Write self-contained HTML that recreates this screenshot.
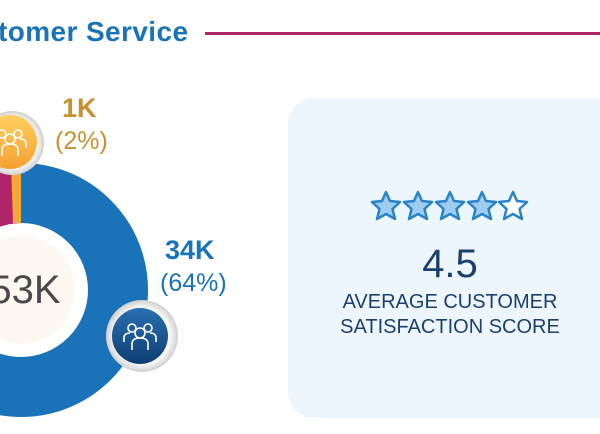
<!DOCTYPE html>
<html><head><style>
body{margin:0;width:600px;height:434px;overflow:hidden;background:#fff;font-family:"Liberation Sans",sans-serif;position:relative}
.t{position:absolute;white-space:nowrap}
</style></head><body>
<div class="t" style="left:-2px;top:16px;font-size:28px;font-weight:bold;color:#1a73b8;letter-spacing:0.4px">tomer Service</div>
<div style="position:absolute;left:205px;top:32px;width:400px;height:3px;background:#b0246a"></div>
<svg width="600" height="434" style="position:absolute;left:0;top:0">
<defs>
<radialGradient id="ring"><stop offset="0.75" stop-color="#fff"/><stop offset="1" stop-color="#cfcfcf"/></radialGradient>
<linearGradient id="og" x1="0" y1="0" x2="0" y2="1"><stop offset="0" stop-color="#ffd060"/><stop offset="1" stop-color="#f5a030"/></linearGradient>
<linearGradient id="bg" x1="0" y1="0" x2="0" y2="1"><stop offset="0" stop-color="#2a6fb0"/><stop offset="1" stop-color="#0e3f72"/></linearGradient>
<g id="ppl" fill="none" stroke="#fff" stroke-width="1.6">
<circle cx="-8" cy="-8" r="4"/><circle cx="8" cy="-8" r="4"/><circle cx="0" cy="-3" r="5"/>
<path d="M-16 6 v-4 q0-5 6-5"/><path d="M16 6 v-4 q0-5 -6-5"/><path d="M-8 14 v-6 q0-6 8-6 q8 0 8 6 v6"/></g>
</defs>
<circle cx="21" cy="290" r="97" fill="none" stroke="#1a73b8" stroke-width="60"/>
<path d="M21 163 A127 127 0 0 0 -85 360 L-35 325 A67 67 0 0 1 21 223 Z" fill="#b0246a"/>
<path d="M21 163 L11 163 L13 223 L21 223 Z" fill="#f5a833"/>
<circle cx="21" cy="290" r="66" fill="#fff"/>
<circle cx="21" cy="290" r="54" fill="#fdf8f2"/>
<circle cx="12" cy="143" r="32" fill="url(#ring)"/>
<circle cx="10" cy="142" r="27" fill="url(#og)"/>
<use href="#ppl" x="10" y="142"/>
<circle cx="142" cy="336" r="36" fill="url(#ring)"/>
<circle cx="140" cy="336" r="28" fill="url(#bg)"/>
<use href="#ppl" x="140" y="336"/>
<rect x="288" y="98" width="340" height="320" rx="26" fill="#eef6fd"/>
<g stroke="#2a82c8" stroke-width="2.5" stroke-linejoin="round" fill="#9fcdf0">
<path transform="translate(386,206)" d="M0 -14 L4 -5 L14 -4 L6.5 3 L9 13 L0 8 L-9 13 L-6.5 3 L-14 -4 L-4 -5 Z"/>
<path transform="translate(418,206)" d="M0 -14 L4 -5 L14 -4 L6.5 3 L9 13 L0 8 L-9 13 L-6.5 3 L-14 -4 L-4 -5 Z"/>
<path transform="translate(450,206)" d="M0 -14 L4 -5 L14 -4 L6.5 3 L9 13 L0 8 L-9 13 L-6.5 3 L-14 -4 L-4 -5 Z"/>
<path transform="translate(482,206)" d="M0 -14 L4 -5 L14 -4 L6.5 3 L9 13 L0 8 L-9 13 L-6.5 3 L-14 -4 L-4 -5 Z"/>
<path transform="translate(513,206)" d="M0 -14 L4 -5 L14 -4 L6.5 3 L9 13 L0 8 L-9 13 L-6.5 3 L-14 -4 L-4 -5 Z" fill="#fff"/>
</g>
</svg>
<div class="t" style="left:-30px;top:268px;width:110px;text-align:center;font-size:40px;color:#4a4a4a">53K</div>
<div class="t" style="left:62px;top:93px;font-size:27px;font-weight:bold;color:#c8902f">1K</div>
<div class="t" style="left:55px;top:127px;font-size:25px;color:#c8902f">(2%)</div>
<div class="t" style="left:165px;top:235px;font-size:27px;font-weight:bold;color:#1a73b8">34K</div>
<div class="t" style="left:160px;top:269px;font-size:25px;color:#1a73b8">(64%)</div>
<div class="t" style="left:350px;top:242px;width:200px;text-align:center;font-size:40px;color:#1d3f6e">4.5</div>
<div class="t" style="left:300px;top:290px;width:300px;text-align:center;font-size:20px;line-height:25px;color:#1d3f6e">AVERAGE CUSTOMER<br>SATISFACTION SCORE</div>
</body></html>
